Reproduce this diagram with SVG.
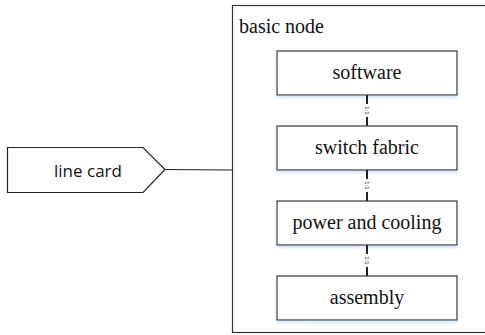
<svg xmlns="http://www.w3.org/2000/svg" width="485" height="335" viewBox="0 0 485 335">
<defs>
<filter id="sh" x="-10%" y="-20%" width="120%" height="150%">
<feDropShadow dx="0" dy="2" stdDeviation="1.5" flood-color="#bcd4ee" flood-opacity="0.7"/>
</filter>
</defs>
<style>
.box{fill:#fff;stroke:#333;stroke-width:1.2}
.serif{font-family:"Liberation Serif","Times New Roman",serif;font-size:20px;fill:#111}
.sans{font-family:"Open Sans","Liberation Sans",sans-serif;font-size:17px;fill:#111}
.conn{stroke:#222;stroke-width:2;fill:none}
.lbl{font-family:"Liberation Sans",sans-serif;font-size:6px;fill:#222}
</style>
<g id="basic-node">
<rect x="232.5" y="5.5" width="260" height="327" fill="#fff" stroke="#333" stroke-width="1.2"/>
<text class="serif" x="239" y="33">basic node</text>
</g>
<g id="line-card">
<path d="M7.5 147.5 H143 L165 169.5 L143 192.5 H7.5 Z" fill="#fff" stroke="#222" stroke-width="1.2"/>
<text class="sans" x="88" y="177" text-anchor="middle">line card</text>
</g>
<g id="software">
<rect class="box" x="277" y="51" width="180" height="44" filter="url(#sh)"/>
<text class="serif" x="367" y="79" text-anchor="middle">software</text>
</g>
<g id="switch-fabric">
<rect class="box" x="277" y="126" width="180" height="44" filter="url(#sh)"/>
<text class="serif" x="367" y="154" text-anchor="middle">switch fabric</text>
</g>
<g id="power-and-cooling">
<rect class="box" x="277" y="201" width="180" height="44" filter="url(#sh)"/>
<text class="serif" x="367" y="229" text-anchor="middle">power and cooling</text>
</g>
<g id="assembly">
<rect class="box" x="277" y="276" width="180" height="44" filter="url(#sh)"/>
<text class="serif" x="367" y="304" text-anchor="middle">assembly</text>
</g>
<g id="connectors">
<path d="M165 169.5 L232.5 170" stroke="#222" stroke-width="1.2" fill="none"/>
<path class="conn" d="M367 95 V104 M367 117 V126"/>
<path class="conn" d="M367 170 V179 M367 192 V201"/>
<path class="conn" d="M367 245 V254 M367 267 V276"/>
<text class="lbl" transform="translate(365,110.5) rotate(90)" text-anchor="middle">1:1</text>
<text class="lbl" transform="translate(365,185.5) rotate(90)" text-anchor="middle">1:1</text>
<text class="lbl" transform="translate(365,260.5) rotate(90)" text-anchor="middle">1:1</text>
</g>
</svg>
